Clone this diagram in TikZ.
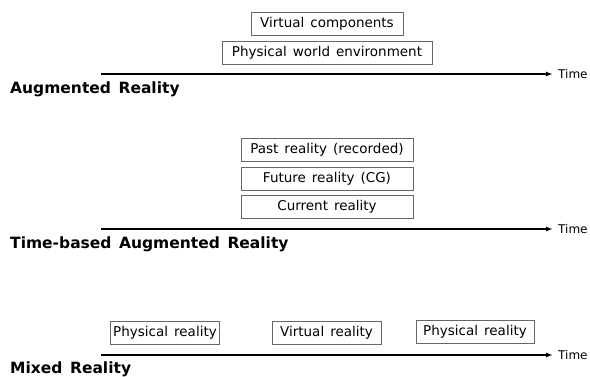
\documentclass[tikz,border=0pt]{standalone}
\usepackage{fontspec}
\setmainfont{DejaVu Sans}[WordSpace=1.4]
\usetikzlibrary{arrows.meta}
\tikzset{
  realbox/.style={draw=black!60, line width=0.8pt, minimum height=23pt, inner sep=0pt,
    font=\fontsize{13.5}{15}\selectfont},
  timeline/.style={line width=1.5pt, -{Latex[length=7pt,width=5pt]}},
  timelabel/.style={anchor=west, inner sep=0pt, xshift=5pt, font=\fontsize{12}{13}\selectfont},
  modetitle/.style={anchor=base west, inner sep=0pt, font=\bfseries\fontsize{15.5}{17}\selectfont}
}
\begin{document}
\begin{tikzpicture}[x=1pt,y=-1pt]
  \useasboundingbox (0,0) rectangle (590,376);

  \node[realbox, minimum width=152pt] (virtcomp) at (327,23.5) {Virtual components};
  \node[realbox, minimum width=210pt] (physworld) at (327,53) {Physical world environment};
  \coordinate (arstart) at (101,74);
  \coordinate (arend) at (553,74);
  \draw[timeline] (arstart) -- (arend);
  \node[timelabel] (artime) at (arend) {Time};
  \node[modetitle] (artitle) at (10,93) {Augmented Reality};

  \node[realbox, minimum width=172pt] (pastreal) at (327,150) {Past reality (recorded)};
  \node[realbox, minimum width=172pt] (futreal) at (327,178.5) {Future reality (CG)};
  \node[realbox, minimum width=172pt] (curreal) at (327,206.5) {Current reality};
  \coordinate (tbstart) at (101,229);
  \coordinate (tbend) at (553,229);
  \draw[timeline] (tbstart) -- (tbend);
  \node[timelabel] (tbtime) at (tbend) {Time};
  \node[modetitle] (tbtitle) at (10,248) {Time-based Augmented Reality};

  \node[realbox, minimum width=109pt] (physone) at (165,333) {Physical reality};
  \node[realbox, minimum width=109pt] (virtreal) at (326.5,333) {Virtual reality};
  \node[realbox, minimum width=118pt] (phystwo) at (475,331.5) {Physical reality};
  \coordinate (mrstart) at (101,355);
  \coordinate (mrend) at (553,355);
  \draw[timeline] (mrstart) -- (mrend);
  \node[timelabel] (mrtime) at (mrend) {Time};
  \node[modetitle] (mrtitle) at (10,373) {Mixed Reality};
\end{tikzpicture}
\end{document}
